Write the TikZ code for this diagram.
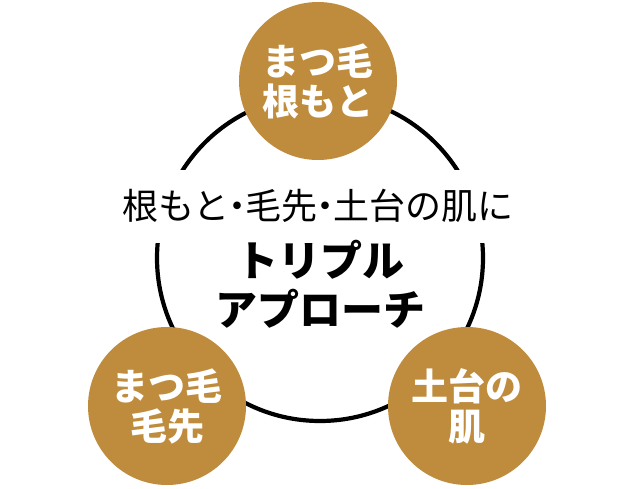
\documentclass[tikz,border=0pt]{standalone}
\usepackage{fontspec}
\setmainfont{Noto Sans CJK JP}
\definecolor{gold}{RGB}{190,140,60}
\newcommand{\nakaguro}{\hspace{-0.28em}・\hspace{-0.28em}}

\begin{document}
\begin{tikzpicture}[x=1pt,y=-1pt,
  disk/.style={circle,fill=gold,minimum size=158pt,inner sep=0pt,text=white,
    align=center,font=\fontsize{37}{40}\selectfont\bfseries}]
\useasboundingbox (0,0) rectangle (638,488);
\def\r{163}
% ring
\draw[line width=4.2pt] (320,258) circle (\r);
% heading
\node[fill=white,inner xsep=2pt,minimum height=73pt,font=\fontsize{36}{40}\selectfont] (head) at (318,206) {根もと\nakaguro 毛先\nakaguro 土台の肌に};
\node[align=center,font=\fontsize{42}{49}\selectfont\bfseries] (title) at (320,284) {トリプル\\アプローチ};
% disks
\node[disk] (root) at (318,81) {まつ毛\\根もと};
\node[disk] (tip) at (167,406) {まつ毛\\毛先};
\node[disk] (skin) at (467,406) {土台の\\肌};
\end{tikzpicture}
\end{document}
